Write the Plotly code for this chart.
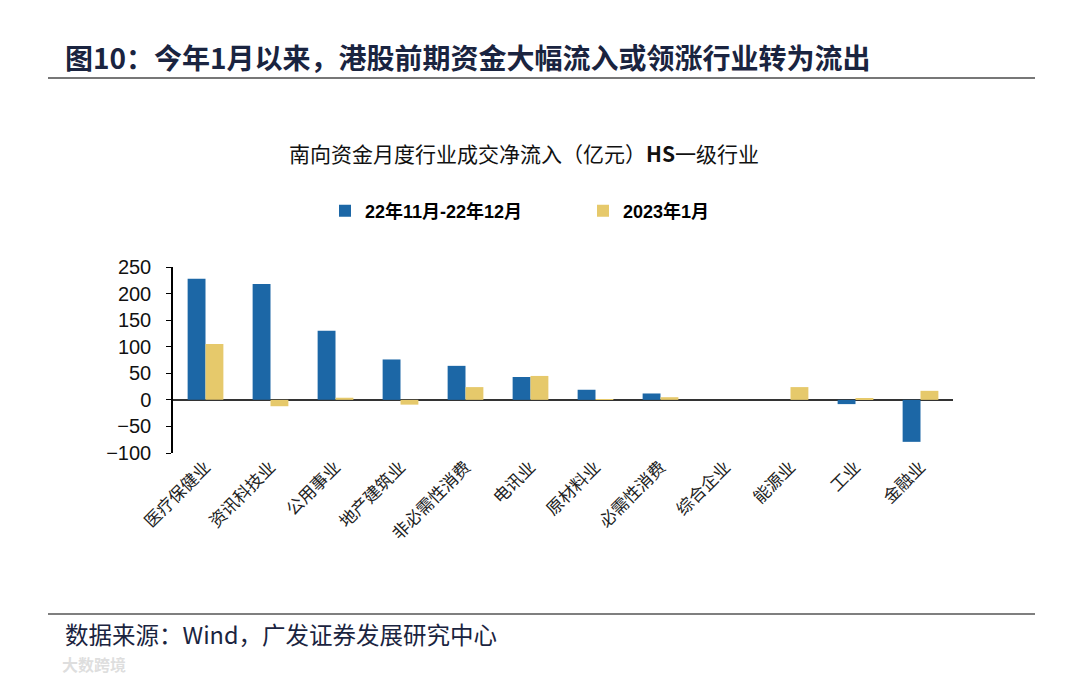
import plotly.graph_objects as go

categories = ["医疗保健业", "资讯科技业", "公用事业", "地产建筑业", "非必需性消费", "电讯业",
              "原材料业", "必需性消费", "综合企业", "能源业", "工业", "金融业"]
series1_name = "22年11月-22年12月"
series1 = [228, 218, 130, 76, 64, 43, 19, 12, 0, 0, -8, -79]
series2_name = "2023年1月"
series2 = [105, -12, 4, -9, 24, 45, 1, 5, 0, 24, 3, 17]
y_ticks = [-100, -50, 0, 50, 100, 150, 200, 250]

OFF = 8  # page body margin
W, H = 1080 - OFF, 678 - OFF
L, R, T, B = 173 - OFF, 953 - OFF, 267 - OFF, 453 - OFF

def px_x(p):
    return (p - OFF - L) / (R - L)

def px_y(p):
    return (B - (p - OFF)) / (B - T)

CJK = "Noto Sans CJK SC"
fig = go.Figure()
fig.add_trace(go.Bar(x=categories, y=series1, name=series1_name, marker_color="#1C67A6",
                     marker_line_width=0))
fig.add_trace(go.Bar(x=categories, y=series2, name=series2_name, marker_color="#E6C96B",
                     marker_line_width=0))

fig.update_layout(
    width=W, height=H,
    margin=dict(l=L, r=W - R, t=T, b=H - B, pad=0),
    paper_bgcolor="white", plot_bgcolor="white",
    barmode="group", bargap=0.45, bargroupgap=0,
    font=dict(family="Liberation Sans, Arial, " + CJK, color="#000"),
    showlegend=True,
    legend=dict(orientation="h", x=px_x(325), y=px_y(211), xanchor="left", yanchor="middle",
                entrywidth=213, entrywidthmode="pixels",
                font=dict(size=18, family="Liberation Sans, " + CJK, color="#000", weight="bold"),
                itemclick=False, bgcolor="rgba(0,0,0,0)"),
    xaxis=dict(tickangle=-45, tickfont=dict(size=17, family=CJK, color="#222"),
               showline=False, ticks="", showgrid=False, zeroline=False),
    yaxis=dict(range=[-100, 250], tickvals=y_ticks, showgrid=False, zeroline=True,
               zerolinecolor="#333", zerolinewidth=1.5, showline=True, linecolor="#000",
               linewidth=1.5, ticks="outside", ticklen=5, tickcolor="#000",
               ticklabelstandoff=11,
               tickfont=dict(size=20, family="Liberation Sans, Arial", color="#111")),
)

annotations = [
    dict(text="图10：今年1月以来，港股前期资金大幅流入或领涨行业转为流出",
         x=px_x(63), y=px_y(57), xanchor="left", yanchor="middle",
         font=dict(size=28, family=CJK, color="#1A2440", weight="bold")),
    dict(text="南向资金月度行业成交净流入（亿元）<b>HS</b>一级行业",
         x=px_x(524), y=px_y(153), xanchor="center", yanchor="middle",
         font=dict(size=21, family=CJK, color="#111")),
    dict(text="数据来源：Wind，广发证券发展研究中心",
         x=px_x(63), y=px_y(634), xanchor="left", yanchor="middle",
         font=dict(size=23.5, family=CJK, color="#1A2440")),
    dict(text="大数跨境",
         x=px_x(60), y=px_y(664), xanchor="left", yanchor="middle",
         font=dict(size=16, family=CJK, color="rgba(200,200,200,0.6)", weight="bold")),
]
for a in annotations:
    a.update(xref="paper", yref="paper", showarrow=False)
fig.update_layout(annotations=annotations)

fig.add_shape(type="line", xref="paper", yref="paper", x0=px_x(48), x1=px_x(1035),
              y0=px_y(78), y1=px_y(78), line=dict(color="#777", width=2))
fig.add_shape(type="line", xref="paper", yref="paper", x0=px_x(48), x1=px_x(1035),
              y0=px_y(614), y1=px_y(614), line=dict(color="#555", width=1.5))

fig.write_html("out.html")
